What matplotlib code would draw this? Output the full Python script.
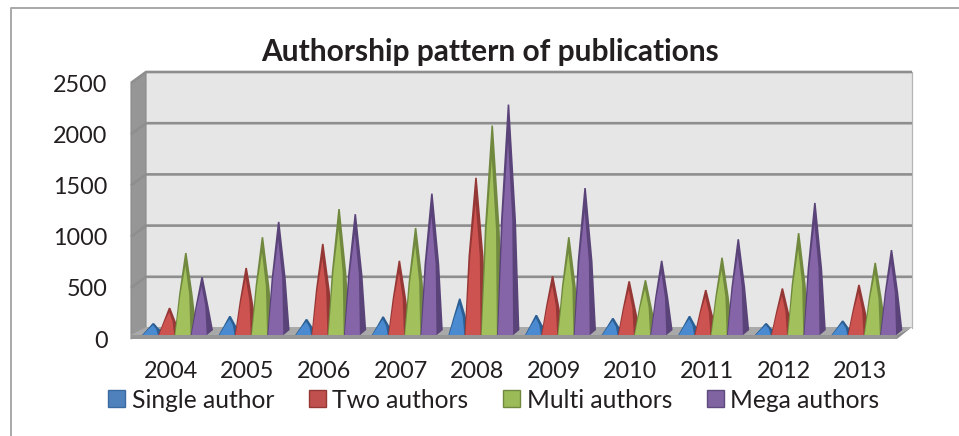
import matplotlib
matplotlib.use("Agg")
import matplotlib.pyplot as plt
from matplotlib.patches import Polygon, Patch
from matplotlib.lines import Line2D
from matplotlib.transforms import ScaledTranslation

years = ["2004", "2005", "2006", "2007", "2008", "2009", "2010", "2011", "2012", "2013"]
single_author = [90, 160, 130, 155, 330, 170, 140, 160, 90, 115]
two_authors = [240, 630, 865, 700, 1510, 550, 500, 415, 430, 465]
multi_authors = [776, 930, 1205, 1020, 2020, 930, 510, 730, 970, 680]
mega_authors = [540, 1080, 1155, 1355, 2225, 1410, 700, 910, 1265, 805]
series_names = ["Single author", "Two authors", "Multi authors", "Mega authors"]
yticks = [0, 500, 1000, 1500, 2000, 2500]

W, H = 959, 436
plt.rcParams["font.family"] = ["Lato", "DejaVu Sans"]
fig = plt.figure(figsize=(W / 100, H / 100), dpi=100)
TXT = "#231f20"

# axes = front plane of the 3-D box
L, R, B, T = 131, 897, 339, 83
ax = fig.add_axes([L / W, 1 - B / H, (R - L) / W, (B - T) / H])
ax.set_xlim(-0.5, 9.5)
ax.set_ylim(0, 2500)
for s in ax.spines.values():
    s.set_visible(False)
ax.patch.set_visible(False)
px = 10 / (R - L)            # data x per pixel
py = 2500 / (B - T)          # data y per pixel


def poly(pts, fc, ec="none", lw=0, z=1):
    ax.add_patch(Polygon([(x, y) for x, y in pts], closed=True, fc=fc, ec=ec, lw=lw,
                         zorder=z, clip_on=False))


dx, dy = 15 * px, 11 * py
GR = "#8e8e8e"
x0, x1 = -0.5, 9.5
# back wall and left side wall
poly([(x0 + dx, dy), (x1 + dx, dy), (x1 + dx, 2500 + dy), (x0 + dx, 2500 + dy)], "#e6e6e6", z=1)
poly([(x0, 0), (x0 + dx, dy), (x0 + dx, 2500 + dy), (x0, 2500)], "#969696", ec="#8a8a8a", lw=0.8, z=2)
# right edge of the wall
ax.plot([x1 + dx, x1 + dx], [dy, 2500 + dy], color="#b5b5b5", lw=0.9, zorder=2, clip_on=False)
# gridlines (back wall plus diagonal on side wall)
for v in yticks[1:]:
    ax.plot([x0, x0 + dx, x1 + dx], [v, v + dy, v + dy], color=GR, lw=1.9, zorder=3,
            clip_on=False, solid_capstyle="butt")
# floor slab
poly([(x0, 4 * py), (x1, 4 * py), (x1 + dx, 12 * py), (x0 + dx, 12 * py)], "#a9a9a9", z=4)
poly([(x0, 0), (x1, 0), (x1, 4 * py), (x0, 4 * py)], "#969696", z=4)
poly([(x1, 0), (x1 + dx, 12 * py), (x1, 4 * py)], "#8a8a8a", z=4)

series = [single_author, two_authors, multi_authors, mega_authors]
front = ["#4a8ad0", "#cd5351", "#a2c05c", "#8565a8"]
side = ["#2b5f94", "#953735", "#71893f", "#5a4378"]
legend_fc = ["#4f81bd", "#c0504d", "#9bbb59", "#8064a2"]
legend_ec = ["#3a6aa0", "#953735", "#71893f", "#5f4a7f"]

bw = 16.25 * px
start = -27.3 * px
base = 4 * py
for i in range(len(years)):
    for k, vals in enumerate(series):
        l = i + start + k * bw
        r = l + bw
        tip_y = vals[i] + 6.6 * py
        ax_c = (l + r) / 2 + 3.2 * px
        h_px = (tip_y - base) / py
        bulge = min(1.0, h_px / 150)
        half = (5.75 + 1.75 * bulge) * px
        y_mid = base + 0.5 * (tip_y - base)
        z = 5 + i + k * 0.1
        # dark silhouette with slightly convex flanks
        poly([(l, base), (r, base), (r + 6 * px, base + 5 * py),
              (ax_c + half, y_mid), (ax_c + 0.8 * px, tip_y), (ax_c - 0.8 * px, tip_y),
              (ax_c - half, y_mid)], side[k], z=z)
        # bright front face that stops short of the tip
        fc = (l + r) / 2 + 2.0 * px
        fhalf = (4.0 + 1.0 * bulge) * px
        poly([(l + 0.8 * px, base), (r - 0.3 * px, base), (fc + fhalf, y_mid),
              (fc + 0.8 * px, base + 0.84 * (tip_y - base)), (fc - fhalf * 0.9, y_mid)],
             front[k], z=z + 0.01)

ax.set_xticks(range(len(years)), years)
ax.set_yticks(yticks, [str(v) for v in yticks])
ax.tick_params(axis="both", length=0, labelsize=16.8, labelcolor=TXT)
ax.tick_params(axis="y", pad=17)
ax.tick_params(axis="x", pad=16)
shift = ScaledTranslation(1.5 / 100, 0, fig.dpi_scale_trans)
for lab in ax.get_xticklabels():
    lab.set_transform(lab.get_transform() + shift)

fig.text(490 / W, 1 - 52 / H, "Authorship pattern of publications", fontsize=21.5,
         fontweight="bold", color=TXT, ha="center", va="center")

handles = [Patch(fc=f, ec=e, lw=1) for f, e in zip(legend_fc, legend_ec)]
fig.legend(handles, series_names, loc="center", bbox_to_anchor=(494 / W, 1 - 400 / H),
           ncol=4, frameon=False, fontsize=17.7, labelcolor=TXT, handlelength=0.68,
           handleheight=0.68, handletextpad=0.27, columnspacing=1.42, borderpad=0)

# frame of the original chart (top and left only)
fig.add_artist(Line2D([11 / W, 11 / W, 1], [0, 1 - 8 / H, 1 - 8 / H], color="#a8a8a8", lw=1.4))

fig.savefig("out.png", dpi=100)
